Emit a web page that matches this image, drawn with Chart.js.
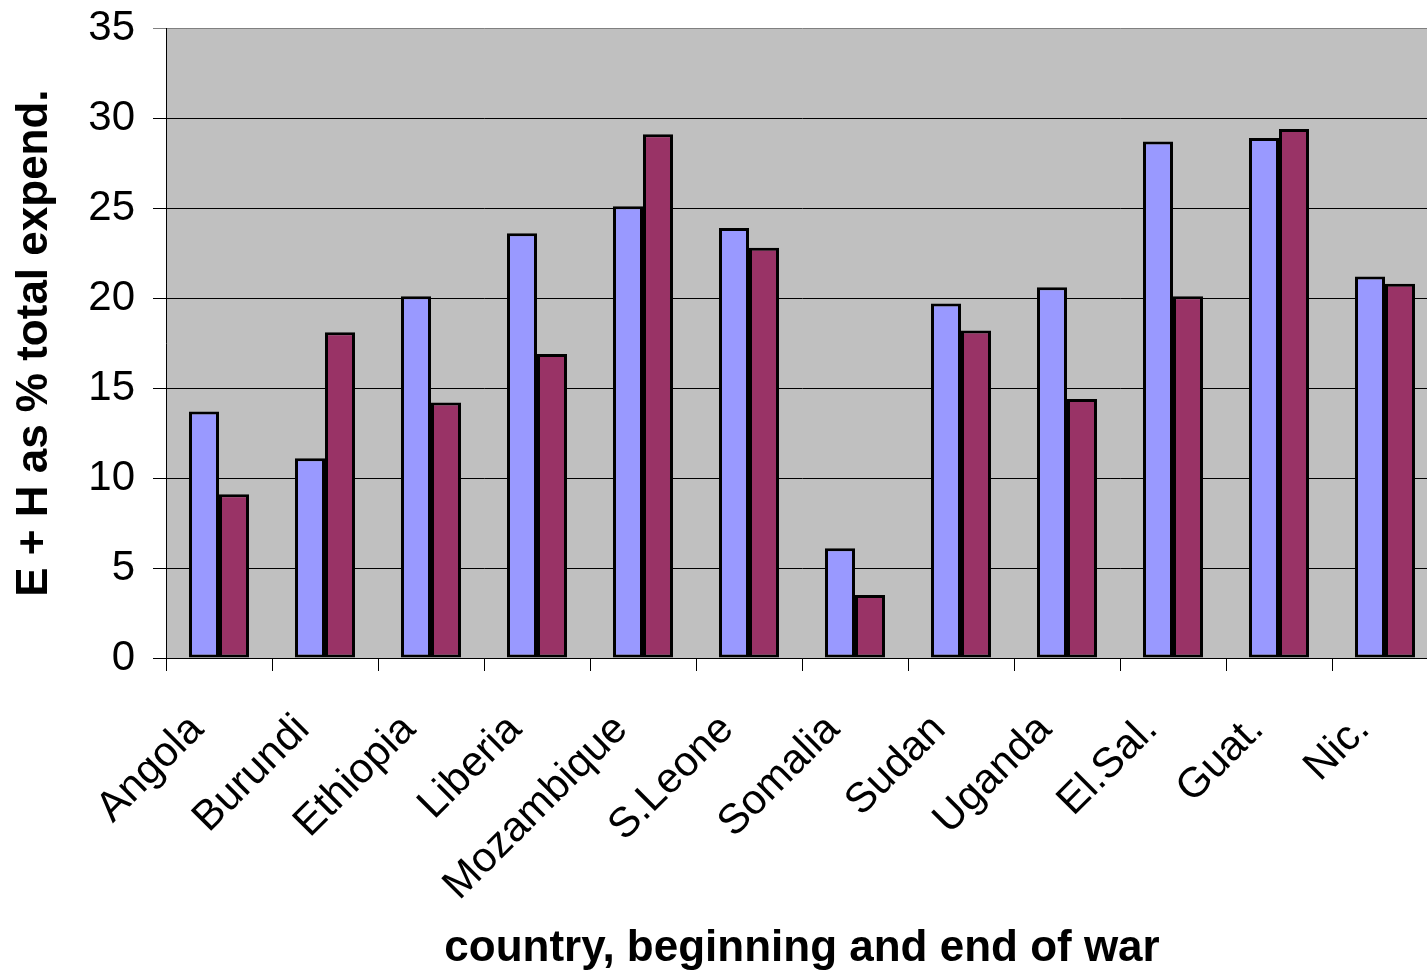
<!DOCTYPE html>
<html>
<head>
<meta charset="utf-8">
<script src="https://cdn.jsdelivr.net/npm/chart.js@4/dist/chart.umd.min.js"></script>
<style>
  html, body { margin: 0; padding: 0; background: #fff; overflow: hidden; }
  #wrap { width: 1460px; height: 992px; margin-top: -15px; }
</style>
</head>
<body>
<div id="wrap"><canvas id="warChart" width="1460" height="992"></canvas></div>
<script>
// share of education + health in total expenditure, start and end of each war
const countries = ['Angola', 'Burundi', 'Ethiopia', 'Liberia', 'Mozambique', 'S.Leone',
                   'Somalia', 'Sudan', 'Uganda', 'El.Sal.', 'Guat.', 'Nic.'];
const beginningOfWar = [13.7, 11.1, 20.1, 23.6, 25.1, 23.9, 6.1, 19.7, 20.6, 28.7, 28.9, 21.2];
const endOfWar = [9.1, 18.1, 14.2, 16.9, 29.1, 22.8, 3.5, 18.2, 14.4, 20.1, 29.4, 20.8];
const yTicks = [0, 5, 10, 15, 20, 25, 30, 35];

const fontFamily = 'Arial, "Liberation Sans", sans-serif';

// grey plot background behind the bars
const plotBackground = {
    id: 'plotBackground',
    beforeDraw(chart) {
        const {ctx, chartArea} = chart;
        ctx.save();
        ctx.fillStyle = '#c0c0c0';
        ctx.fillRect(chartArea.left, chartArea.top, chartArea.right - chartArea.left, chartArea.bottom - chartArea.top);
        ctx.restore();
    }
};

document.addEventListener('DOMContentLoaded', function() {
    const ctx = document.getElementById('warChart').getContext('2d');

    new Chart(ctx, {
        type: 'bar',
        data: {
            labels: countries,
            datasets: [{
                label: 'beginning',
                data: beginningOfWar,
                backgroundColor: '#9999ff',
                borderColor: '#000',
                borderWidth: 3,
                borderSkipped: false
            }, {
                label: 'end',
                data: endOfWar,
                backgroundColor: '#993366',
                borderColor: '#000',
                borderWidth: 3,
                borderSkipped: false
            }]
        },
        options: {
            responsive: false,
            animation: false,
            layout: { padding: { top: 0, right: 22, left: 0, bottom: 0 } },
            datasets: {
                bar: { categoryPercentage: 0.566, barPercentage: 1.0 }
            },
            plugins: {
                legend: { display: false },
                tooltip: { enabled: false }
            },
            scales: {
                x: {
                    afterFit(scale) { scale.height = 319; },
                    grid: {
                        offset: true,
                        drawOnChartArea: false,
                        drawTicks: true,
                        tickLength: 13,
                        color: '#000',
                        lineWidth: 1
                    },
                    border: { color: '#000', width: 1 },
                    ticks: {
                        color: '#000',
                        font: { family: fontFamily, size: 42 },
                        minRotation: 45,
                        maxRotation: 45,
                        padding: 34,
                        labelOffset: -22,
                        autoSkip: false
                    },
                    title: {
                        display: true,
                        text: 'country, beginning and end of war',
                        color: '#000',
                        font: { family: fontFamily, size: 44, weight: 'bold' },
                        padding: { top: 0, bottom: 2 }
                    }
                },
                y: {
                    min: 0,
                    max: 35,
                    afterFit(scale) { scale.width = 166; },
                    afterBuildTicks(scale) {
                        scale.ticks = yTicks.map(v => ({ value: v }));
                    },
                    grid: {
                        color: ctx => ctx.tick && ctx.tick.value === 35 ? '#808080' : '#000',
                        lineWidth: 1,
                        tickLength: 13
                    },
                    border: { color: '#000', width: 1 },
                    ticks: {
                        color: '#000',
                        font: { family: fontFamily, size: 42 },
                        padding: 18
                    },
                    title: {
                        display: true,
                        text: 'E + H as % total expend.',
                        color: '#000',
                        font: { family: fontFamily, size: 44, weight: 'bold' },
                        padding: { top: 8, bottom: 0 }
                    }
                }
            }
        },
        plugins: [plotBackground]
    });
});
</script>
</body>
</html>
